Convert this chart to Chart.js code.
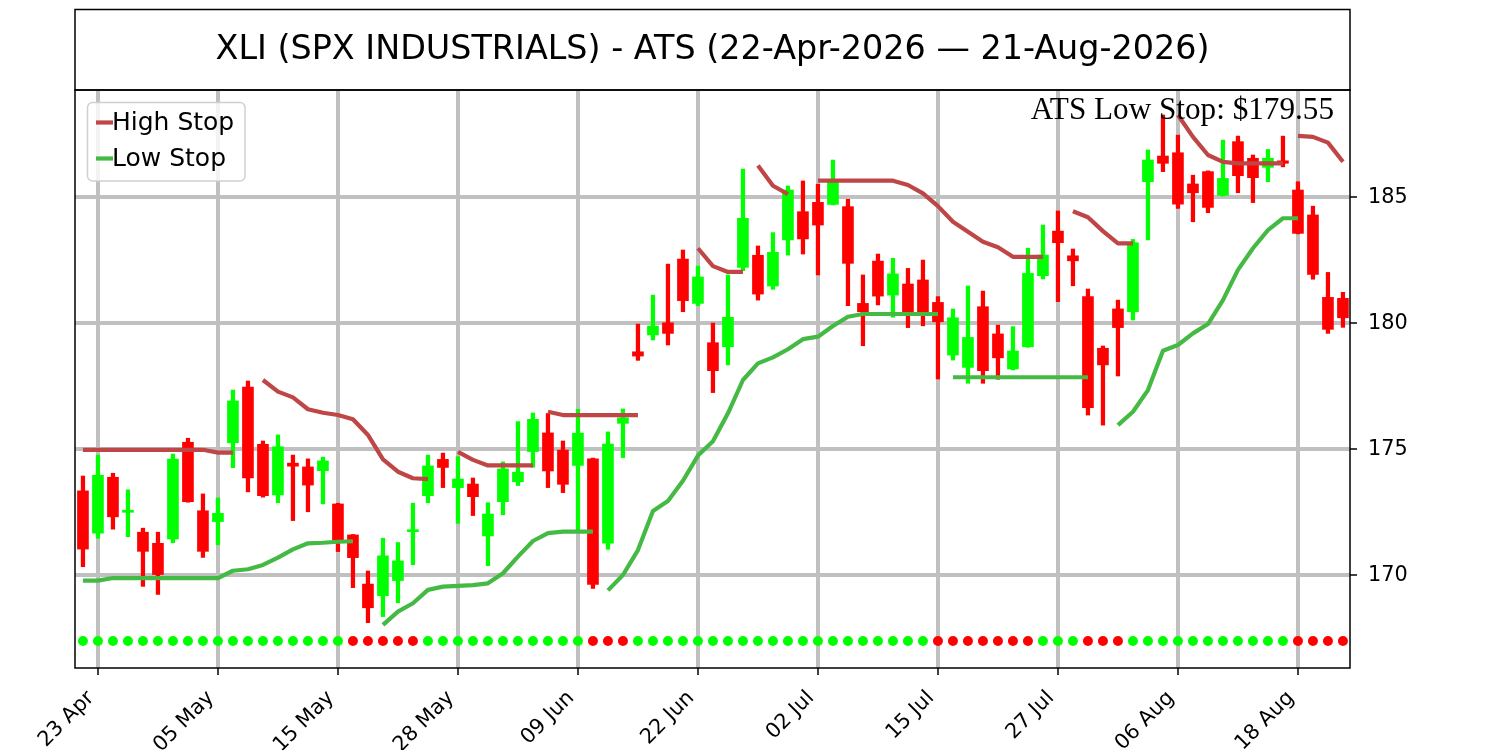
<!DOCTYPE html>
<html>
<head>
<meta charset="utf-8">
<script src="https://cdn.jsdelivr.net/npm/chart.js@4.4.1/dist/chart.umd.min.js"></script>
<style>
html,body{margin:0;padding:0;background:#fff;}
#wrap{width:1500px;height:750px;}
</style>
</head>
<body>
<div id="wrap"><canvas id="c" width="1500" height="750"></canvas></div>
<script>
// ---------------- data ----------------
const ticker = 'XLI';
const tickerName = 'SPX INDUSTRIALS';
const startDate = '22-Apr-2026';
const endDate = '21-Aug-2026';
const lastLowStop = 179.55;

const opens = [173.35,171.67,173.89,172.50,171.71,171.27,171.44,175.28,172.56,172.13,
175.26,177.47,175.20,173.19,174.45,174.30,174.15,172.83,171.60,169.65,
169.19,169.79,171.73,173.16,174.60,173.48,173.62,171.56,172.92,173.71,
174.91,175.65,174.97,174.36,174.62,171.27,176.03,178.87,179.54,180.02,
182.55,180.79,179.23,179.07,182.22,182.70,181.48,183.31,184.43,184.80,
184.72,184.63,180.79,182.47,181.12,181.56,181.72,180.83,178.74,178.25,
180.66,179.58,178.19,179.07,181.89,183.66,182.68,181.06,179.01,180.57,
180.46,185.62,186.64,186.77,185.53,186.02,185.08,187.21,186.55,186.19,
186.45,185.29,184.30,181.03,180.99];
const highs = [173.94,174.77,174.05,173.39,171.87,171.71,174.81,175.44,173.23,173.07,
177.35,177.71,175.33,175.57,174.77,174.62,174.69,172.86,171.62,170.17,
171.47,171.30,172.86,174.77,174.85,174.71,173.86,172.88,174.50,176.10,
176.44,176.42,175.33,176.59,174.65,175.69,176.60,179.97,181.12,182.35,
182.91,182.27,180.01,181.92,186.12,183.07,183.60,185.45,185.65,185.52,
186.48,184.92,181.92,182.75,182.58,182.18,182.51,181.06,180.57,181.48,
181.28,179.93,179.87,182.98,183.90,184.46,182.95,181.36,179.10,180.92,
183.33,186.88,188.27,187.47,185.88,186.05,187.27,187.43,186.68,186.90,
187.43,185.62,184.65,182.02,181.23];
const lows = [170.34,171.47,171.83,171.53,169.56,169.24,171.29,172.90,170.71,171.21,
174.27,173.31,173.10,172.88,172.17,172.52,172.83,170.94,169.51,168.12,
168.36,168.91,170.42,172.88,173.48,172.06,172.37,170.38,172.40,173.56,
174.29,173.48,173.28,171.70,169.48,171.03,174.67,178.53,179.34,179.14,
180.46,180.70,177.25,178.35,182.09,180.92,181.35,182.71,182.75,181.92,
184.70,180.70,179.11,180.73,180.24,179.83,179.90,177.79,178.54,177.62,
177.62,177.78,178.15,179.05,181.76,180.86,181.49,176.36,175.96,177.91,
180.13,183.31,186.02,184.56,184.03,184.39,185.05,185.18,184.79,185.62,
186.21,183.55,181.75,179.60,179.84];
const closes = [171.04,173.97,172.32,172.58,170.95,170.03,174.61,172.92,170.95,172.46,
176.92,173.86,173.16,175.10,174.33,173.58,174.54,171.40,170.70,168.71,
170.77,170.57,171.80,174.34,174.28,173.82,173.12,172.43,174.22,174.09,
176.19,174.14,173.61,175.64,169.64,175.21,176.25,178.70,179.89,179.60,
180.90,181.84,178.12,180.24,184.17,181.16,182.82,185.29,183.35,183.90,
185.69,182.38,180.46,181.08,181.96,180.46,180.46,180.06,180.22,179.44,
178.12,178.63,178.90,181.98,182.71,183.20,182.48,176.65,178.35,179.83,
183.20,186.48,186.35,184.73,185.18,184.60,185.75,185.86,185.78,186.55,
186.35,183.57,181.94,179.76,180.22];

const highStop = [174.98,174.98,174.98,174.98,174.98,174.98,174.98,174.98,174.98,174.87,
174.87,null,177.75,177.29,177.06,176.59,176.45,176.36,176.19,175.57,
174.60,174.11,173.85,173.82,null,174.90,174.58,174.36,174.36,174.36,
174.36,176.49,176.36,176.36,176.36,176.36,176.36,176.36,null,null,
null,182.98,182.27,182.04,182.04,186.26,185.46,185.13,null,185.66,
185.66,185.66,185.66,185.66,185.66,185.49,185.16,184.65,184.03,183.63,
183.24,183.02,182.64,182.64,182.64,null,184.45,184.21,183.66,183.17,
183.17,null,null,188.27,187.40,186.68,186.41,186.35,186.35,186.35,
186.35,187.44,187.40,187.17,186.41];
const highBreaks = [31,45,81];

const lowStop = [169.79,169.79,169.89,169.89,169.89,169.89,169.89,169.89,169.89,169.89,
170.18,170.24,170.41,170.70,171.03,171.27,171.29,171.33,171.35,null,
168.03,168.56,168.89,169.42,169.55,169.58,169.61,169.68,170.08,170.74,
171.36,171.67,171.73,171.73,171.73,169.40,170.01,171.00,172.55,172.95,
173.75,174.75,175.32,176.43,177.75,178.41,178.65,178.97,179.37,179.47,
179.89,180.26,180.37,180.37,180.37,180.37,180.37,180.37,177.86,177.86,
177.86,177.86,177.86,177.86,177.86,177.86,177.86,177.86,null,175.96,
176.49,177.35,178.91,179.14,179.60,179.97,180.92,182.12,182.98,183.70,
184.17,184.17,null,null,null];
const lowBreaks = [35,58];

// 1 = bullish (green dot), 0 = bearish (red dot)
const signals = [1,1,1,1,1,1,1,1,1,1,1,1,1,1,1,1,1,1,0,0,
0,0,0,1,1,1,1,1,1,1,1,1,1,1,0,0,0,1,1,1,
1,1,1,1,1,1,1,1,1,1,1,1,1,1,1,1,1,0,0,0,
0,0,0,0,1,1,1,0,0,0,1,1,1,1,1,1,1,1,1,1,
1,0,0,0,0];
const signalLevel = 167.39;

const tickIdx = [1,9,17,25,33,41,49,57,65,73,81];
const tickLabels = ['23 Apr','05 May','15 May','28 May','09 Jun','22 Jun','02 Jul','15 Jul','27 Jul','06 Aug','18 Aug'];
const yTicks = [170,175,180,185];

// ---------------- styles ----------------
const GREEN = '#00ff00', RED = '#ff0000';
const HIGH_COLOR = 'rgb(190,70,70)', LOW_COLOR = 'rgb(68,186,68)';
const GRID = '#c0c0c0';
const FONT = 'DejaVu Sans';

const xs = opens.map((_, i) => i);
const candleColors = xs.map(i => closes[i] >= opens[i] ? GREEN : RED);

const decor = {
  id: 'decor',
  beforeDraw(chart) {
    const c = chart.ctx;
    c.save(); c.fillStyle = '#fff'; c.fillRect(0, 0, chart.width, chart.height); c.restore();
  },
  afterDraw(chart) {
    const c = chart.ctx, a = chart.chartArea;
    c.save();
    // plot frame
    c.strokeStyle = '#000'; c.lineWidth = 1.5;
    c.strokeRect(a.left, a.top, a.right - a.left, a.bottom - a.top);
    // title box
    c.strokeRect(a.left, 9.5, a.right - a.left, a.top - 9.5);
    c.fillStyle = '#000';
    c.font = '33.4px "' + FONT + '"';
    c.textAlign = 'center'; c.textBaseline = 'middle';
    c.fillText(`${ticker} (${tickerName}) - ATS (${startDate} \u2014 ${endDate})`, (a.left + a.right) / 2, 50);
    // annotation
    c.font = '31.2px "Liberation Serif"';
    c.textAlign = 'right'; c.textBaseline = 'alphabetic';
    c.fillText(`ATS Low Stop: $${lastLowStop.toFixed(2)}`, a.right - 16, 119);
    // legend
    const lx = 87.5, ly = 102.5, lw = 157.5, lh = 78.5, r = 5;
    c.beginPath();
    c.roundRect(lx, ly, lw, lh, r);
    c.fillStyle = 'rgba(255,255,255,0.8)'; c.fill();
    c.strokeStyle = '#d0d0d0'; c.lineWidth = 1.5; c.stroke();
    const items = [['High Stop', HIGH_COLOR, 122.5], ['Low Stop', LOW_COLOR, 158.5]];
    c.font = '25px "' + FONT + '"';
    c.textAlign = 'left'; c.textBaseline = 'middle';
    for (const [t, col, y] of items) {
      c.strokeStyle = col; c.lineWidth = 4.2;
      c.beginPath(); c.moveTo(96, y); c.lineTo(113, y); c.stroke();
      c.fillStyle = '#000';
      c.fillText(t, 112, y + 1);
    }
    c.restore();
  }
};

new Chart(document.getElementById('c'), {
  type: 'line',
  data: {
    datasets: [
      {
        type: 'line', label: 'High Stop',
        data: xs.map(i => ({x: i, y: highStop[i]})),
        borderColor: HIGH_COLOR, borderWidth: 4.2, pointRadius: 0, tension: 0,
        spanGaps: false, borderJoinStyle: 'round',
        segment: { borderColor: ctx => highBreaks.includes(ctx.p1DataIndex) ? 'rgba(0,0,0,0)' : undefined },
        order: 0
      },
      {
        type: 'line', label: 'Low Stop',
        data: xs.map(i => ({x: i, y: lowStop[i]})),
        borderColor: LOW_COLOR, borderWidth: 4.2, pointRadius: 0, tension: 0,
        spanGaps: false, borderJoinStyle: 'round',
        segment: { borderColor: ctx => lowBreaks.includes(ctx.p1DataIndex) ? 'rgba(0,0,0,0)' : undefined },
        order: 0
      },
      {
        type: 'bar', label: 'Body',
        data: xs.map(i => ({x: i, y: [opens[i], closes[i]]})),
        backgroundColor: candleColors, borderWidth: 0, barThickness: 11, grouped: false,
        minBarLength: 2, order: 1
      },
      {
        type: 'bar', label: 'Wick',
        data: xs.map(i => ({x: i, y: [lows[i], highs[i]]})),
        backgroundColor: candleColors, borderWidth: 0, barThickness: 3.6, grouped: false,
        order: 2
      },
      {
        type: 'scatter', label: 'Signal',
        data: xs.map(i => ({x: i, y: signalLevel})),
        pointBackgroundColor: signals.map(s => s ? GREEN : RED),
        pointBorderWidth: 0, pointRadius: 5, showLine: false,
        order: 3
      }
    ]
  },
  options: {
    responsive: false, animation: false, devicePixelRatio: 1, events: [],
    layout: { padding: { left: 75, top: 90, right: 0, bottom: 0 } },
    plugins: { legend: { display: false }, tooltip: { enabled: false }, title: { display: false } },
    scales: {
      x: {
        type: 'linear', min: -0.53, max: 84.47, offset: false,
        afterBuildTicks: s => { s.ticks = tickIdx.map(v => ({value: v})); },
        afterFit: s => { s.height = 82; },
        ticks: {
          autoSkip: false, minRotation: 45, maxRotation: 45, color: '#000', padding: 11, labelOffset: -7,
          font: { family: FONT, size: 20.8 },
          callback: (v, idx) => tickLabels[idx]
        },
        grid: { color: GRID, lineWidth: 4, tickColor: '#000', tickWidth: 1.5, tickLength: 7, offset: false },
        border: { display: false }
      },
      y: {
        type: 'linear', position: 'right', min: 166.32, max: 189.26,
        afterBuildTicks: s => { s.ticks = yTicks.map(v => ({value: v})); },
        afterFit: s => { s.width = 150; },
        ticks: { color: '#000', padding: 11, font: { family: FONT, size: 20.8 }, callback: v => String(v) },
        grid: { color: GRID, lineWidth: 4, tickColor: '#000', tickWidth: 1.5, tickLength: 7 },
        border: { display: false }
      }
    }
  },
  plugins: [decor]
});
</script>
</body>
</html>
